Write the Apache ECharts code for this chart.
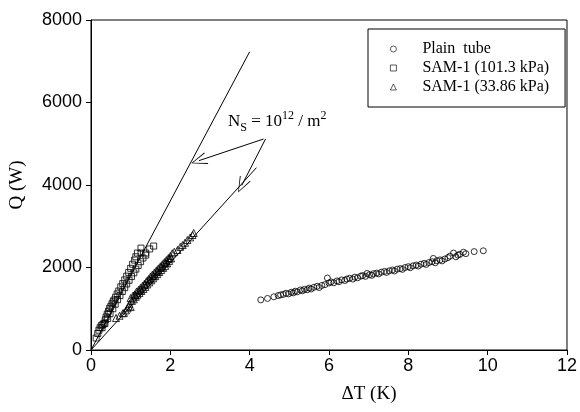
<!DOCTYPE html>
<html>
<head>
<meta charset="utf-8">
<script src="https://cdn.jsdelivr.net/npm/echarts@6/dist/echarts.min.js"></script>
<style>
html,body{margin:0;padding:0;background:#fff;}
#chart{width:580px;height:412px;}
</style>
</head>
<body>
<div id="chart"></div>
<script>
// Plain tube
var plainTube = [
	[4.28,1215],[4.45,1250],[4.61,1290],[4.72,1320],[4.78,1335],[4.85,1350],[4.92,1375],[4.98,1360],
	[5.05,1400],[5.1,1385],[5.15,1425],[5.2,1410],[5.28,1455],[5.33,1435],[5.38,1470],[5.45,1460],
	[5.5,1500],[5.55,1480],[5.62,1520],[5.7,1545],[5.75,1515],[5.82,1565],[5.9,1585],[5.96,1745],
	[6.0,1625],[6.05,1650],[6.12,1630],[6.2,1675],[6.25,1655],[6.32,1700],[6.4,1685],[6.45,1720],
	[6.52,1740],[6.6,1720],[6.65,1765],[6.72,1750],[6.8,1790],[6.85,1805],[6.92,1785],[6.96,1855],
	[7.02,1825],[7.08,1810],[7.12,1850],[7.2,1865],[7.25,1845],[7.32,1885],[7.4,1905],[7.45,1880],
	[7.52,1920],[7.6,1940],[7.65,1915],[7.72,1960],[7.8,1975],[7.85,1955],[7.92,2000],[8.0,2020],
	[8.05,1995],[8.12,2040],[8.2,2060],[8.25,2035],[8.32,2080],[8.4,2100],[8.45,2075],[8.52,2120],
	[8.6,2140],[8.63,2220],[8.68,2115],[8.72,2165],[8.8,2185],[8.85,2160],[8.92,2205],[9.0,2240],
	[9.05,2275],[9.14,2350],[9.2,2260],[9.25,2300],[9.3,2320],[9.39,2370],[9.45,2335],[9.66,2385],
	[9.89,2405]
];
// SAM-1 (101.3 kPa)
var sam101 = [
	[0.13,290],[0.17,400],[0.2,480],[0.23,540],[0.26,590],[0.3,620],[0.33,650],[0.36,730],
	[0.38,800],[0.41,870],[0.44,940],[0.47,1010],[0.5,1060],[0.53,1120],[0.56,1170],[0.58,1210],
	[0.62,1280],[0.66,1360],[0.7,1430],[0.75,1530],[0.8,1610],[0.85,1700],[0.9,1790],[0.95,1880],
	[1.0,1980],[1.05,2080],[1.1,2180],[1.13,2260],[1.17,2350],[1.26,2350],[1.38,2350],[1.48,2450],
	[1.58,2520],[1.26,2470],
	[0.28,540],[0.35,640],[0.42,760],[0.48,880],[0.55,1000],[0.61,1110],[0.67,1220],[0.73,1320],
	[0.79,1420],[0.85,1510],[0.9,1600],[0.96,1690],[1.02,1780],[1.08,1870],[1.13,1960],[1.19,2050],
	[1.25,2140],[1.31,2230],[1.38,2300]
];
// SAM-1 (33.86 kPa)
var sam33 = [
	[0.63,775],[0.72,830],[0.8,890],[0.83,900],[0.88,960],[0.92,1010],[0.95,1060],[1.0,1040],
	[0.97,1120],[1.0,1260],[1.03,1190],[1.06,1320],[1.08,1230],[1.1,1350],[1.13,1290],[1.15,1420],
	[1.17,1340],[1.2,1460],[1.22,1380],[1.25,1510],[1.27,1430],[1.3,1560],[1.32,1480],[1.35,1610],
	[1.37,1530],[1.4,1670],[1.42,1590],[1.45,1720],[1.47,1640],[1.5,1780],[1.52,1690],[1.55,1830],
	[1.57,1740],[1.6,1880],[1.62,1790],[1.65,1930],[1.67,1840],[1.7,1980],[1.72,1890],[1.75,2030],
	[1.77,1940],[1.8,2080],[1.82,1990],[1.85,2130],[1.87,2040],[1.9,2180],[1.92,2100],[1.95,2230],
	[1.97,2160],[2.0,2280],[2.02,2220],[2.05,2345],
	[1.12,1330],[1.24,1460],[1.36,1580],[1.48,1710],[1.58,1800],[1.68,1910],[1.78,2010],[1.88,2110],
	[1.98,2220],[2.1,2380],[2.18,2424],[2.25,2500],[2.31,2545],[2.37,2600],[2.43,2667],[2.5,2730],
	[2.56,2788],[2.59,2836]
];
// N_S = 10^12 / m^2 lines
var lineHigh = [[0,0],[4.0,7230]];
var lineLow = [[0,0],[4.17,4420]];
// arrows [from, to]
var arrows = [
	[[4.35,5115],[2.72,4590]],
	[[4.40,5115],[3.80,3990]]
];
var xTicks = {min:0, max:12, interval:2};
var yTicks = {min:0, max:8000, interval:2000};

var serif = 'Liberation Serif';
var sans = 'Liberation Sans';
var hollow = {color:'rgba(255,255,255,0)', borderColor:'#000', borderWidth:1};
var arrowHead = 'path://M0,0 L-6,15 L-5.2,15.4 L0,1.6 L5.2,15.4 L6,15 Z';

var chart = echarts.init(document.getElementById('chart'));
var option = {
	animation: false,
	backgroundColor: '#fff',
	grid: {
		left: 90,
		right: 13,
		top: 20,
		bottom: 62,
		show: true,
		borderColor: '#000',
		borderWidth: 1
	},
	legend: {
		orient: 'vertical',
		left: 368,
		top: 29,
		padding: [12, 16, 12, 22],
		borderColor: '#000',
		borderWidth: 1,
		itemWidth: 6,
		itemHeight: 6,
		itemGap: 3,
		itemStyle: {borderWidth: 0.8},
		textStyle: {
			fontFamily: serif,
			fontSize: 16,
			color: '#000',
			padding: [0, 0, 0, 21]
		},
		data: ['Plain  tube', 'SAM-1 (101.3 kPa)', 'SAM-1 (33.86 kPa)']
	},
	xAxis: {
		type: 'value',
		min: xTicks.min,
		max: xTicks.max,
		interval: xTicks.interval,
		name: 'ΔT (K)',
		nameLocation: 'middle',
		nameGap: 35,
		nameTextStyle: {fontFamily: serif, fontSize: 19, color: '#000', padding: [0, 0, 0, 80]},
		axisLine: {lineStyle: {color: '#000', width: 1}},
		axisTick: {length: 5, lineStyle: {color: '#000'}},
		axisLabel: {fontFamily: sans, fontSize: 18, color: '#000', margin: 7},
		splitLine: {show: false}
	},
	yAxis: {
		type: 'value',
		min: yTicks.min,
		max: yTicks.max,
		interval: yTicks.interval,
		name: 'Q (W)',
		nameLocation: 'middle',
		nameGap: 64,
		nameTextStyle: {fontFamily: serif, fontSize: 19, color: '#000'},
		axisLine: {show: true, lineStyle: {color: '#000', width: 1}},
		axisTick: {show: true, length: 5, lineStyle: {color: '#000'}},
		axisLabel: {
			fontFamily: sans, fontSize: 18, color: '#000', margin: 9,
			formatter: function(v){ return String(v); }
		},
		splitLine: {show: false}
	},
	graphic: [
		{
			type: 'text',
			left: 228,
			top: 110,
			style: {
				text: '{n|N}{s|S}{n| = 10}{p|12}{n| / m}{p|2}',
				rich: {
					n: {fontFamily: serif, fontSize: 17, fill: '#000', lineHeight: 24, verticalAlign: 'middle'},
					s: {fontFamily: serif, fontSize: 12, fill: '#000', lineHeight: 24, verticalAlign: 'bottom'},
					p: {fontFamily: serif, fontSize: 12, fill: '#000', lineHeight: 24, verticalAlign: 'top'}
				}
			}
		}
	],
	series: [
		{
			name: 'Plain  tube',
			type: 'scatter',
			symbol: 'circle',
			symbolSize: 6,
			itemStyle: hollow,
			data: plainTube
		},
		{
			name: 'SAM-1 (101.3 kPa)',
			type: 'scatter',
			symbol: 'rect',
			symbolSize: 6,
			itemStyle: hollow,
			data: sam101
		},
		{
			name: 'SAM-1 (33.86 kPa)',
			type: 'scatter',
			symbol: 'triangle',
			symbolSize: 7,
			itemStyle: hollow,
			data: sam33
		},
		{
			type: 'line',
			symbol: 'none',
			lineStyle: {color: '#000', width: 1},
			data: lineHigh
		},
		{
			type: 'line',
			symbol: 'none',
			lineStyle: {color: '#000', width: 1},
			data: lineLow,
			markLine: {
				silent: true,
				symbol: ['none', arrowHead],
				symbolSize: [12, 16],
				label: {show: false},
				lineStyle: {color: '#000', width: 1, type: 'solid'},
				data: arrows.map(function(a){
					return [{coord: a[0]}, {coord: a[1]}];
				})
			}
		}
	]
};
chart.setOption(option);
</script>
</body>
</html>
